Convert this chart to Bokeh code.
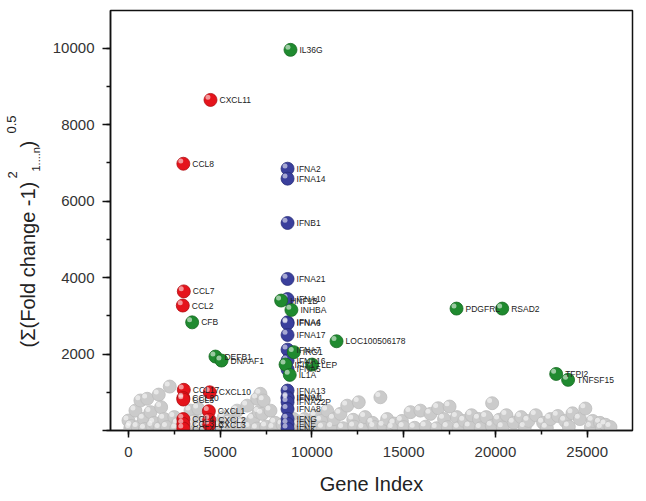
from math import pi
from bokeh.plotting import figure
from bokeh.layouts import row
from bokeh.models import Range1d, SingleIntervalTicker, Label, ColumnDataSource
from bokeh.transform import dodge
from bokeh.core.properties import value
from bokeh.embed import file_html
from bokeh.resources import INLINE

# ---------------- data ----------------
grey_x = [0, 100, 150, 380, 500, 650, 835, 900, 1020, 1200,
          1300, 1400, 1650, 1700, 1780, 1950, 2100, 2250, 2500, 2600,
          2700, 3100, 3380, 3500, 3600, 3800, 3900, 4000, 4200, 4600,
          4800, 4900, 5200, 5300, 5500, 5700, 5920, 6100, 6200, 6470,
          6600, 6800, 7000, 7010, 7100, 7190, 7290, 7370, 7500, 7740,
          7900, 8000, 8400, 9000,
          9300, 9500, 9600, 9900, 10000, 10200, 10500, 10600, 10830, 11100,
          11200, 11550, 11700, 11920, 12250, 12300, 12550, 12800, 12900, 13300,
          13400, 13730, 13900, 14100, 14400, 14500, 14900, 15000, 15370, 15600,
          15910,
          16200, 16460, 16800, 16880, 17200, 17400, 17500, 17900, 18000, 18300,
          18600, 18700, 19100, 19200, 19500, 19800, 19820, 20200, 20400, 20600,
          21000, 21400, 21600, 21800, 22200, 22600, 22800, 23000, 23400, 23800,
          24000, 24200, 24600, 24900, 25200, 25300, 25700, 25800, 26000, 26270]
grey_y = [260, 60, 120, 520, 90, 785, 305, 40, 830, 480,
          110, 200, 940, 60, 610, 300, 90, 1150, 350, 50,
          180, 80, 520, 120, 250, 570, 60, 150, 300, 200,
          70, 100, 350, 40, 250, 110, 520, 60, 180, 650,
          90, 300, 50, 830, 480, 960, 435, 785, 100, 520,
          60, 200, 150, 300,
          150, 60, 300, 200, 80, 380, 250, 70, 520, 90,
          300, 435, 60, 650, 280, 100, 740, 60, 350, 200,
          90, 870, 120, 300, 60, 180, 250, 90, 480, 70,
          520,
          100, 435, 60, 583, 300, 90, 627, 350, 70, 250,
          100, 400, 300, 60, 350, 120, 714, 280, 80, 400,
          200, 350, 90, 250, 400, 200, 70, 300, 380, 250,
          100, 450, 300, 575, 90, 250, 200, 60, 150, 90]

red_genes = ["CXCL11", "CCL8", "CCL7", "CCL2", "CCL17", "CCL20", "CCL3", "CXCL10",
             "CXCL1", "CXCL2", "CXCL3", "CCL4", "CCL3L3", "CCL4L1"]
red_x = [4470, 2990, 3015, 2960, 3015, 2990, 2990, 4430,
         4380, 4400, 4400, 2990, 2990, 2990]
red_y = [8650, 6980, 3640, 3270, 1065, 850, 810, 1000,
         505, 280, 150, 300, 170, 50]

blue_genes = ["IFNA2", "IFNA14", "IFNB1", "IFNA21", "IFNA10", "IFNA4", "IFNA6", "IFNA17",
              "IFNA7", "IFNA16", "IFNA5", "IFNA13", "IFNA1", "IFNW1", "IFNA22P", "IFNA8",
              "IFNG", "IFNE", "IFNK"]
blue_x = [8670] * 19
blue_y = [6850, 6590, 5430, 3965, 3440, 2830, 2800, 2500,
          2115, 1830, 1600, 1045, 870, 840, 740, 560,
          305, 175, 45]

green_genes = ["IL36G", "HNF1B", "INHBA", "CFB", "DEFB1", "DNAAF1", "LOC100506178", "IRG1",
               "IFIT1", "LEP", "IL1A", "PDGFRL", "RSAD2", "TFPI2", "TNFSF15"]
green_x = [8830, 8320, 8880, 3470, 4740, 5070, 11340, 9010,
           8560, 10010, 8790, 17880, 20370, 23310, 23960]
green_y = [9960, 3400, 3155, 2830, 1935, 1830, 2335, 2050,
           1725, 1725, 1455, 3190, 3190, 1480, 1325]

y_title_parts = ["(Σ(Fold change -1)", "2", "1....n", ")", "0.5"]

# ---------------- main figure ----------------
FONT = "Liberation Sans"
p = figure(width=600, height=501,
           x_range=Range1d(-980, 27470), y_range=Range1d(0, 10990),
           output_backend="svg", toolbar_location=None,
           min_border_left=64, min_border_right=14,
           min_border_top=10, min_border_bottom=71)
p.xgrid.visible = False
p.ygrid.visible = False
p.outline_line_color = "#111111"
p.outline_line_width = 1.5
p.background_fill_color = "white"
p.border_fill_color = "white"


def spheres(xs, ys, color, rim):
    src = ColumnDataSource(dict(x=xs, y=ys))
    p.scatter("x", "y", source=src, size=13, fill_color=color,
              line_color=rim, line_width=0.8)
    p.scatter(dodge("x", -140, range=p.x_range), dodge("y", 70, range=p.y_range),
              source=src, size=5, fill_color="white", fill_alpha=0.55, line_color=None)


spheres(grey_x, grey_y, "#cbcbcb", "#bdbdbd")
spheres(red_x, red_y, "#e5141c", "#b00c12")
spheres(blue_x, blue_y, "#3a3f9c", "#2a2e7a")
spheres(green_x, green_y, "#1f8a2f", "#166a22")

for xs, ys, names in [(red_x, red_y, red_genes), (blue_x, blue_y, blue_genes),
                      (green_x, green_y, green_genes)]:
    p.text(x=xs, y=ys, text=names, x_offset=9, text_baseline="middle",
           text_font=value(FONT), text_font_size="8.5px", text_color="#222222")

p.xaxis.ticker = SingleIntervalTicker(interval=5000, num_minor_ticks=2)
p.yaxis.ticker = SingleIntervalTicker(interval=2000, num_minor_ticks=2)
p.yaxis.major_label_overrides = {0: ""}
for ax in (p.xaxis, p.yaxis):
    ax.axis_line_color = "#111111"
    ax.axis_line_width = 1.5
    ax.major_tick_line_color = "#111111"
    ax.major_tick_line_width = 1.5
    ax.minor_tick_line_color = "#111111"
    ax.minor_tick_line_width = 1.5
    ax.major_tick_in = 0
    ax.minor_tick_in = 0
    ax.minor_tick_out = 4
    ax.major_label_text_font = FONT
    ax.major_label_text_font_size = "15px"
    ax.major_label_text_font_style = "normal"
    ax.major_label_text_color = "#333333"
p.xaxis.major_tick_out = 7
p.yaxis.major_tick_out = 8
p.xaxis.major_label_standoff = 9
p.yaxis.major_label_standoff = 8
p.xaxis.axis_label = "Gene Index"
p.xaxis.axis_label_text_font = FONT
p.xaxis.axis_label_text_font_size = "20px"
p.xaxis.axis_label_text_font_style = "normal"
p.xaxis.axis_label_text_color = "#222222"
p.xaxis.axis_label_standoff = 13

# ---------------- strip for the y-axis title ----------------
LW = 46
side = figure(width=LW, height=501, x_range=Range1d(0, LW), y_range=Range1d(0, 501),
              output_backend="svg", toolbar_location=None, min_border=0,
              x_axis_location=None, y_axis_location=None)
side.xgrid.visible = False
side.ygrid.visible = False
side.outline_line_color = None
side.background_fill_color = "white"
side.border_fill_color = "white"

# (x px, y px above the aligned frame bottom, font size)
placement = [(27, 83, "20px"), (12, 252, "13px"), (35, 259, "11px"),
             (27, 283, "20px"), (11, 297, "13px")]
for txt, (sx, sy, fs) in zip(y_title_parts, placement):
    side.add_layout(Label(x=sx, y=sy, x_units="screen", y_units="screen", text=txt,
                          angle=pi / 2, text_align="left", text_baseline="middle",
                          text_font=FONT, text_font_size=fs, text_color="#222222"))

layout = row(side, p, spacing=0)
open("out.html", "w").write(file_html(layout, INLINE))
